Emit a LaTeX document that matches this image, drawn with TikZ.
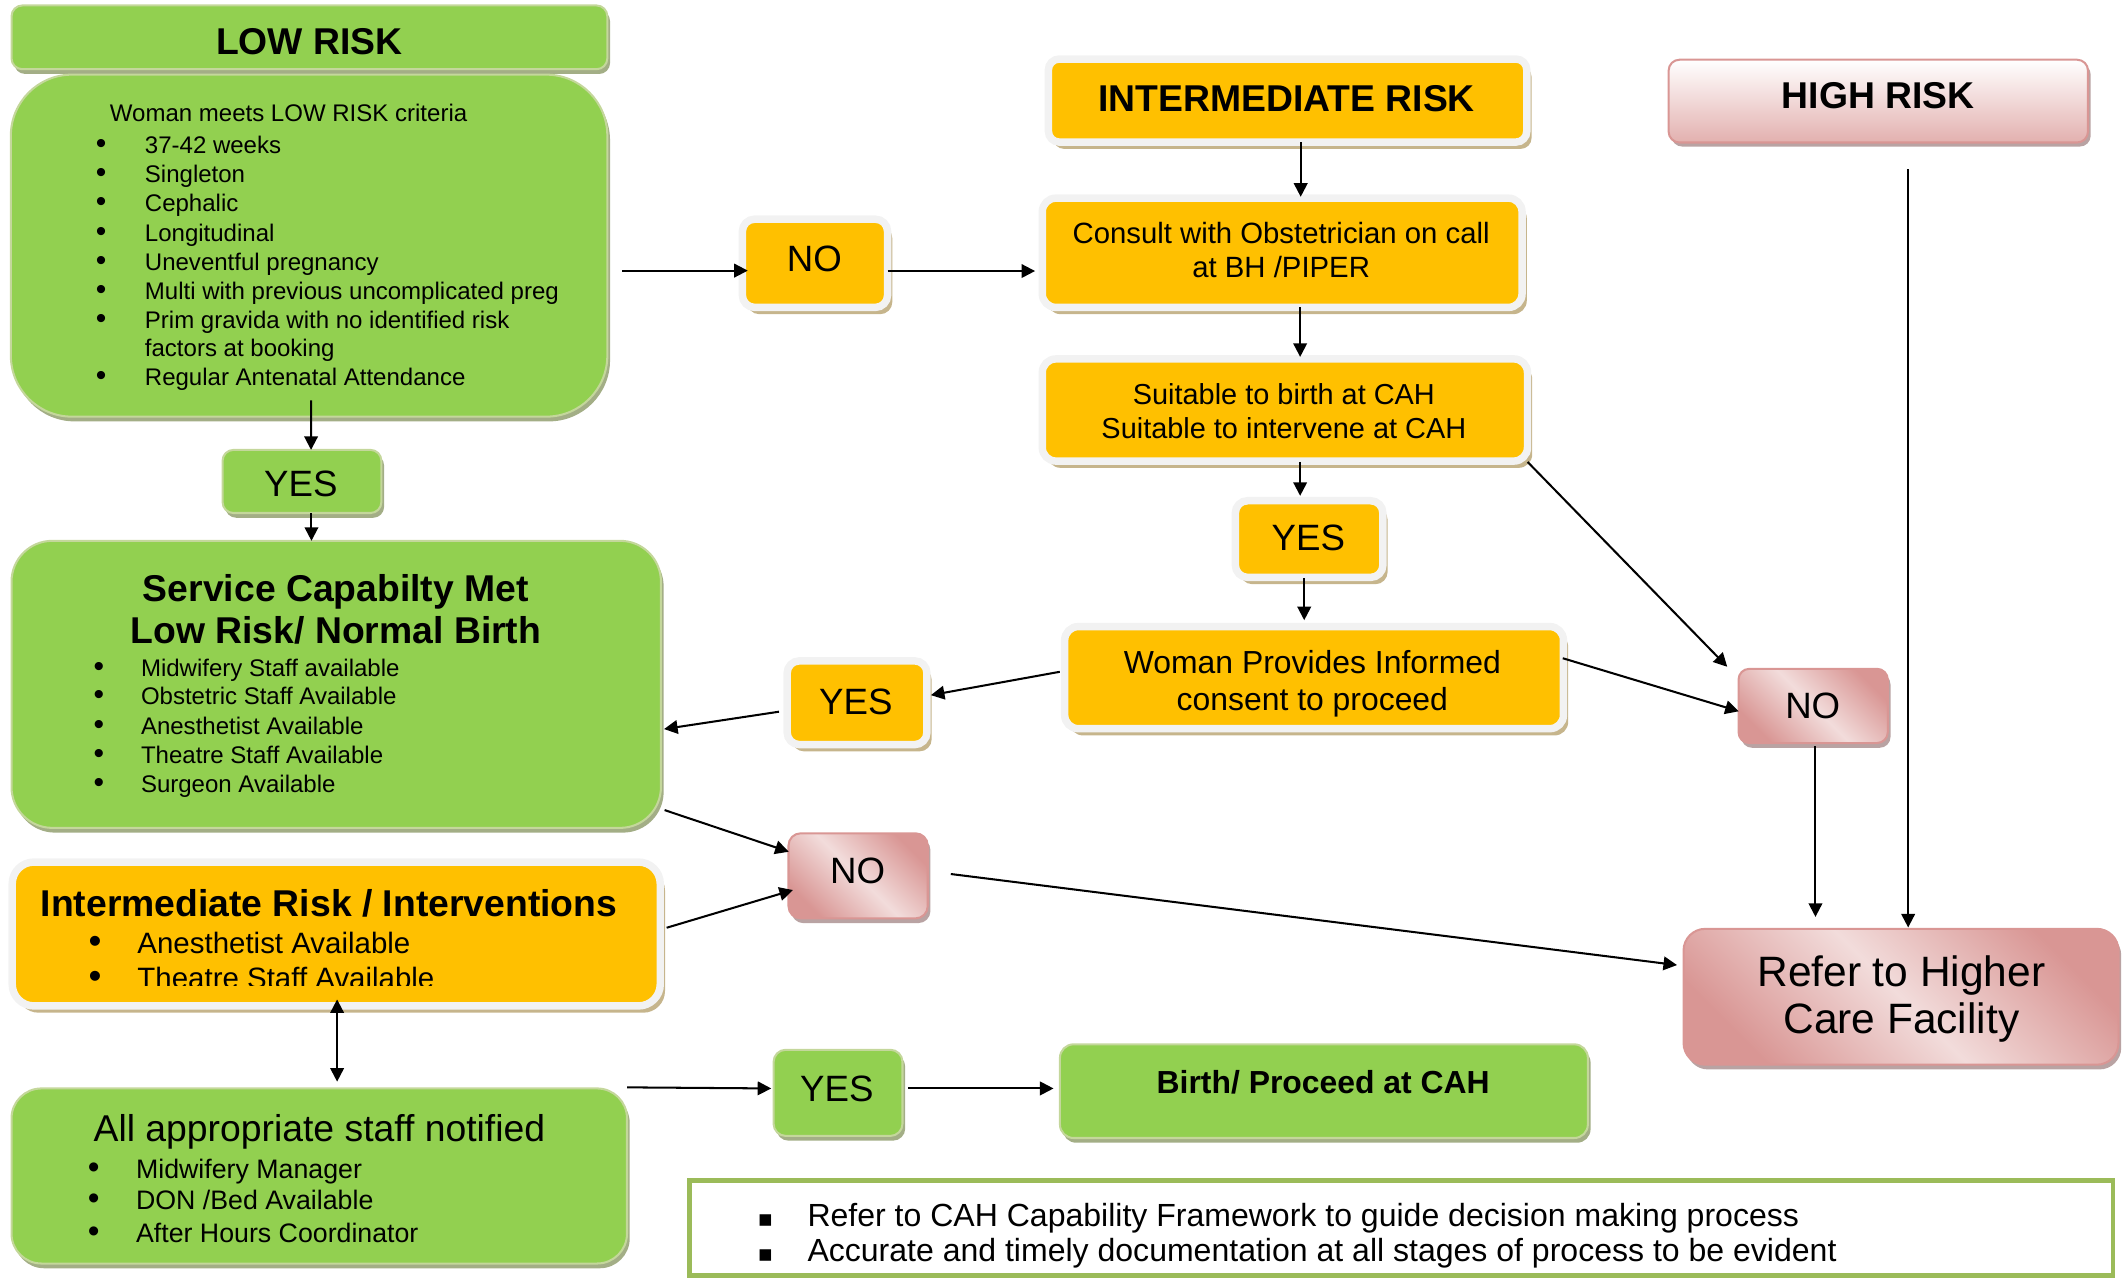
\documentclass[tikz,border=0pt]{standalone}
\usepackage{fontspec}
\setmainfont{Liberation Sans}
\newfontfamily\dvsans{DejaVu Sans}
\usetikzlibrary{arrows.meta,shadows,calc}

\definecolor{lgreen}{HTML}{92D050}
\definecolor{gborder}{HTML}{C4D79B}
\definecolor{gshadow}{HTML}{A3AE86}
\definecolor{orng}{HTML}{FFC000}
\definecolor{oborder}{HTML}{F2F2F2}
\definecolor{oshadow}{HTML}{C6B58C}
\definecolor{pdark}{HTML}{D99694}
\definecolor{plight}{HTML}{F2DCDB}
\definecolor{pshadow}{HTML}{B9A3A3}
\definecolor{noteg}{HTML}{9BBB59}

\newcommand\fszT{\fontsize{27.5}{33}\selectfont}
\newcommand\fszL{\fontsize{27}{32}\selectfont}
\newcommand\bitem[5]{%
  \node[txt] (#1b) at (#2,#4) {\scalebox{1.25}{\textbullet}};
  \node[txt, anchor=base west] (#1) at (#3,#4) {#5};}

\tikzset{
  box/.style={rectangle, inner sep=0pt, outer sep=0pt},
  gbox/.style={box, fill=lgreen, draw=gborder, line width=1.5pt,
    general shadow={fill=gshadow, shadow xshift=2pt, shadow yshift=-3.5pt}},
  obox/.style={box, fill=orng, draw=oborder, line width=5.5pt,
    general shadow={fill=oshadow, shadow xshift=3.5pt, shadow yshift=-5pt}},
  pbox/.style={box, draw=pdark, line width=1.5pt,
    general shadow={fill=pshadow, shadow xshift=2pt, shadow yshift=-3.5pt},
    top color=pdark, bottom color=pdark, middle color=plight, shading angle=-45},
  hbox/.style={box, draw=pdark, line width=1.5pt,
    general shadow={fill=pshadow, shadow xshift=2pt, shadow yshift=-3pt},
    top color=white, bottom color=pdark!75},
  notebox/.style={box, draw=noteg, line width=3.5pt, fill=white},
  arr/.style={line width=1.5pt, -{Triangle[length=10pt,width=10pt]}},
  darr/.style={line width=1.5pt, {Triangle[length=10pt,width=10pt]}-{Triangle[length=10pt,width=10pt]}},
  txt/.style={inner sep=0pt, outer sep=0pt, anchor=base},
}

\begin{document}
\begin{tikzpicture}[x=1pt,y=-1pt]
\useasboundingbox (0,0) rectangle (1568,943);

% ---------- boxes ----------
\node[gbox, rounded corners=8pt, minimum width=439pt, minimum height=47pt] (lowhdr) at (228,27.5) {};
\node[gbox, rounded corners=45pt, minimum width=439.5pt, minimum height=252pt] (crit) at (227.75,181) {};
\node[gbox, rounded corners=8pt, minimum width=117pt, minimum height=46.5pt] (yes1) at (222.5,354.75) {};
\node[gbox, rounded corners=30pt, minimum width=478.5pt, minimum height=211.5pt] (svc) at (247.75,504.25) {};
\node[obox, rounded corners=16pt, minimum width=477.5pt, minimum height=106pt] (inter) at (247.75,688.2) {};
\node[gbox, rounded corners=22pt, minimum width=453.5pt, minimum height=129pt] (staff) at (235.25,866.5) {};
\node[gbox, rounded corners=9pt, minimum width=95pt, minimum height=63.5pt] (yes4) at (617.5,805.25) {};
\node[gbox, rounded corners=10pt, minimum width=389pt, minimum height=69pt] (birth) at (975.5,804) {};

\node[obox, rounded corners=8pt, minimum width=352.5pt, minimum height=61.2pt] (ihdr) at (948.75,74.1) {};
\node[obox, rounded corners=9pt, minimum width=107pt, minimum height=65pt] (no1) at (600.5,194) {};
\node[obox, rounded corners=10pt, minimum width=353.5pt, minimum height=80.5pt] (consult) at (944.75,186.25) {};
\node[obox, rounded corners=10pt, minimum width=357.5pt, minimum height=75.25pt] (suit) at (946.75,302.1) {};
\node[obox, rounded corners=9pt, minimum width=108.7pt, minimum height=56.5pt] (yes2) at (964.6,397.2) {};
\node[obox, rounded corners=10pt, minimum width=367.5pt, minimum height=75.2pt] (woman) at (968.25,499.3) {};
\node[obox, rounded corners=9pt, minimum width=103pt, minimum height=61.7pt] (yes3) at (631.5,517.8) {};

\node[hbox, rounded corners=8pt, minimum width=309pt, minimum height=61pt] (high) at (1384,74.5) {};
\node[pbox, rounded corners=8pt, minimum width=110pt, minimum height=54.7pt] (no3) at (1336,520.15) {};
\node[pbox, rounded corners=9pt, minimum width=102.6pt, minimum height=62.7pt] (no2) at (632.3,645.35) {};
\node[pbox, rounded corners=16pt, minimum width=320.5pt, minimum height=100.1pt] (refer) at (1400.75,734.45) {};

\node[notebox, minimum width=1049pt, minimum height=70pt] (note) at (1032.5,905) {};

% ---------- texts ----------
\begin{scope}[font=\fszT\bfseries]
  \node[txt] (lowT) at (228,40.5) {LOW RISK};
  \node[txt] (ihdrT) at (948,82.4) {INTERMEDIATE RISK};
  \node[txt] (highT) at (1384,80.3) {HIGH RISK};
  \node[txt] (svcT1) at (247.5,443.5) {Service Capabilty Met};
  \node[txt] (svcT2) at (247.5,474.2) {Low Risk/ Normal Birth};
  \node[txt, anchor=base west] (interT) at (30,675.5) {Intermediate Risk / Interventions};
\end{scope}
\node[txt, anchor=base west, font=\fszT] (staffT) at (69,841.2) {All appropriate staff notified};

\begin{scope}[font=\fontsize{17.7}{21}\selectfont]
  \node[txt, anchor=base west] (critT) at (81,89.8) {Woman meets LOW RISK criteria};
  \bitem{c1}{74.6}{106.8}{113.1}{37-42 weeks}
  \bitem{c2}{74.6}{106.8}{134.7}{Singleton}
  \bitem{c3}{74.6}{106.8}{156.1}{Cephalic}
  \bitem{c4}{74.6}{106.8}{177.7}{Longitudinal}
  \bitem{c5}{74.6}{106.8}{199.1}{Uneventful pregnancy}
  \bitem{c6}{74.6}{106.8}{220.7}{Multi with previous uncomplicated preg}
  \bitem{c7}{74.6}{106.8}{242.1}{Prim gravida with no identified risk}
  \node[txt, anchor=base west] (c7b2) at (106.8,262.9) {factors at booking};
  \bitem{c8}{74.6}{106.8}{283.8}{Regular Antenatal Attendance}
  \bitem{s1}{72.9}{103.9}{498.1}{Midwifery Staff available}
  \bitem{s2}{72.9}{103.9}{519.3}{Obstetric Staff Available}
  \bitem{s3}{72.9}{103.9}{541.3}{Anesthetist Available}
  \bitem{s4}{72.9}{103.9}{562.3}{Theatre Staff Available}
  \bitem{s5}{72.9}{103.9}{583.6}{Surgeon Available}
\end{scope}

\begin{scope}[font=\fontsize{21.7}{26}\selectfont]
  \clip (0,600) rectangle (500,726.5);
  \bitem{i1}{70}{101.3}{702.8}{Anesthetist Available}
  \bitem{i2}{70}{101.3}{728.7}{Theatre Staff Available}
\end{scope}

\begin{scope}[font=\fontsize{19.7}{24}\selectfont]
  \bitem{a1}{69}{100.3}{868}{Midwifery Manager}
  \bitem{a2}{69}{100.3}{891}{DON /Bed Available}
  \bitem{a3}{69}{100.3}{915.3}{After Hours Coordinator}
\end{scope}

\node[txt, font=\fontsize{21.6}{26}\selectfont] (consT1) at (944,179.7) {Consult with Obstetrician on call};
\node[txt, font=\fontsize{21.6}{26}\selectfont] (consT2) at (944,204.7) {at BH /PIPER};
\node[txt, font=\fontsize{21.3}{26}\selectfont] (suitT1) at (946,298) {Suitable to birth at CAH};
\node[txt, font=\fontsize{21.3}{26}\selectfont] (suitT2) at (946,323) {Suitable to intervene at CAH};
\node[txt, font=\fontsize{23.5}{28}\selectfont] (womT1) at (967,496.1) {Woman Provides Informed};
\node[txt, font=\fontsize{23.5}{28}\selectfont] (womT2) at (967,523.4) {consent to proceed};
\node[txt, font=\fontsize{23.5}{28}\selectfont\bfseries] (birthT) at (975,805.4) {Birth/ Proceed at CAH};
\node[txt, font=\fontsize{31.3}{36}\selectfont] (refT1) at (1401,727.2) {Refer to Higher};
\node[txt, font=\fontsize{31.3}{36}\selectfont] (refT2) at (1401,761.5) {Care Facility};

\begin{scope}[font=\fszL]
  \node[txt] (no1T) at (600,199.7) {NO};
  \node[txt] (yes1T) at (221.7,365.7) {YES};
  \node[txt] (yes2T) at (964,405.3) {YES};
  \node[txt] (yes3T) at (630.6,526.7) {YES};
  \node[txt] (yes4T) at (616.6,811.7) {YES};
  \node[txt] (no2T) at (631.9,650.8) {NO};
  \node[txt] (no3T) at (1335.7,529.4) {NO};
\end{scope}

\begin{scope}[font=\fontsize{23.6}{27}\selectfont]
  \node[txt, font=\fontsize{17}{20}\dvsans] (nb1) at (564,903.9) {▪};
  \node[txt, anchor=base west] (n1) at (595,903.9) {Refer to CAH Capability Framework to guide decision making process};
  \node[txt, font=\fontsize{17}{20}\dvsans] (nb2) at (564,929.6) {▪};
  \node[txt, anchor=base west] (n2) at (595,929.6) {Accurate and timely documentation at all stages of process to be evident};
\end{scope}

% ---------- connectors ----------
\draw[arr] ($(crit.south)+(1.5,-12)$) -- ($(yes1.north)+(6.7,0)$);
\draw[arr] ($(yes1.south)+(7,0)$) -- ($(svc.north)+(-18.25,0)$);
\draw[arr] ($(crit.east)+(11,18.4)$) -- ($(no1.west)+(4,5.4)$);
\draw[arr] ($(no1.east)+(0,5.7)$) -- ($(consult.west)+(-5.3,13.45)$);
\draw[arr] ($(ihdr.south)+(9.65,0)$) -- ($(consult.north)+(13.65,-1)$);
\draw[arr] ($(consult.south)+(13.25,0)$) -- ($(suit.north)+(11.25,-1.5)$);
\draw[arr] ($(suit.south)+(11.25,0.6)$) -- ($(yes2.north)+(-6.6,-3.6)$);
\draw[arr] ($(yes2.south)+(-3.6,0.5)$) -- ($(woman.north)+(-7.25,-4.7)$);
\draw[arr] ($(woman.west)+(-3.6,-4.3)$) -- ($(yes3.east)+(2.9,-5.6)$);
\draw[arr] ($(yes3.west)+(-6,6.6)$) -- ($(svc.east)+(2.3,32.95)$);
\draw[arr] ($(suit.south east)+(0.1,0.65)$) -- ($(no3.north west)+(-8.3,-1.5)$);
\draw[arr] ($(woman.east)+(-0.5,-14.3)$) -- ($(no3.west)+(0.2,3.95)$);
\draw[arr] ($(no3.south)+(1.7,2.5)$) -- ($(refer.north)+(-63.05,-8.8)$);
\draw[arr] ($(high.south)+(22,19.8)$) -- ($(refer.north)+(5.25,-1)$);
\draw[arr] ($(svc.east)+(2.7,92.65)$) -- ($(no2.west)+(0.2,-17.75)$);
\draw[arr] ($(inter.east)+(4.7,-4.6)$) -- ($(no2.west)+(3.3,10.45)$);
\draw[arr] ($(no2.east)+(17,-1.35)$) -- ($(refer.west)+(-4.8,-23.35)$);
\draw[darr] ($(inter.south)+(0.65,-4.8)$) -- ($(staff.north)+(13.15,-5)$);
\draw[arr] ($(staff.north east)+(0,-0.8)$) -- ($(yes4.west)+(-1.7,-3.25)$);
\draw[arr] ($(yes4.east)+(4,-3.25)$) -- ($(birth.west)+(-4.7,-2)$);
\end{tikzpicture}
\end{document}
